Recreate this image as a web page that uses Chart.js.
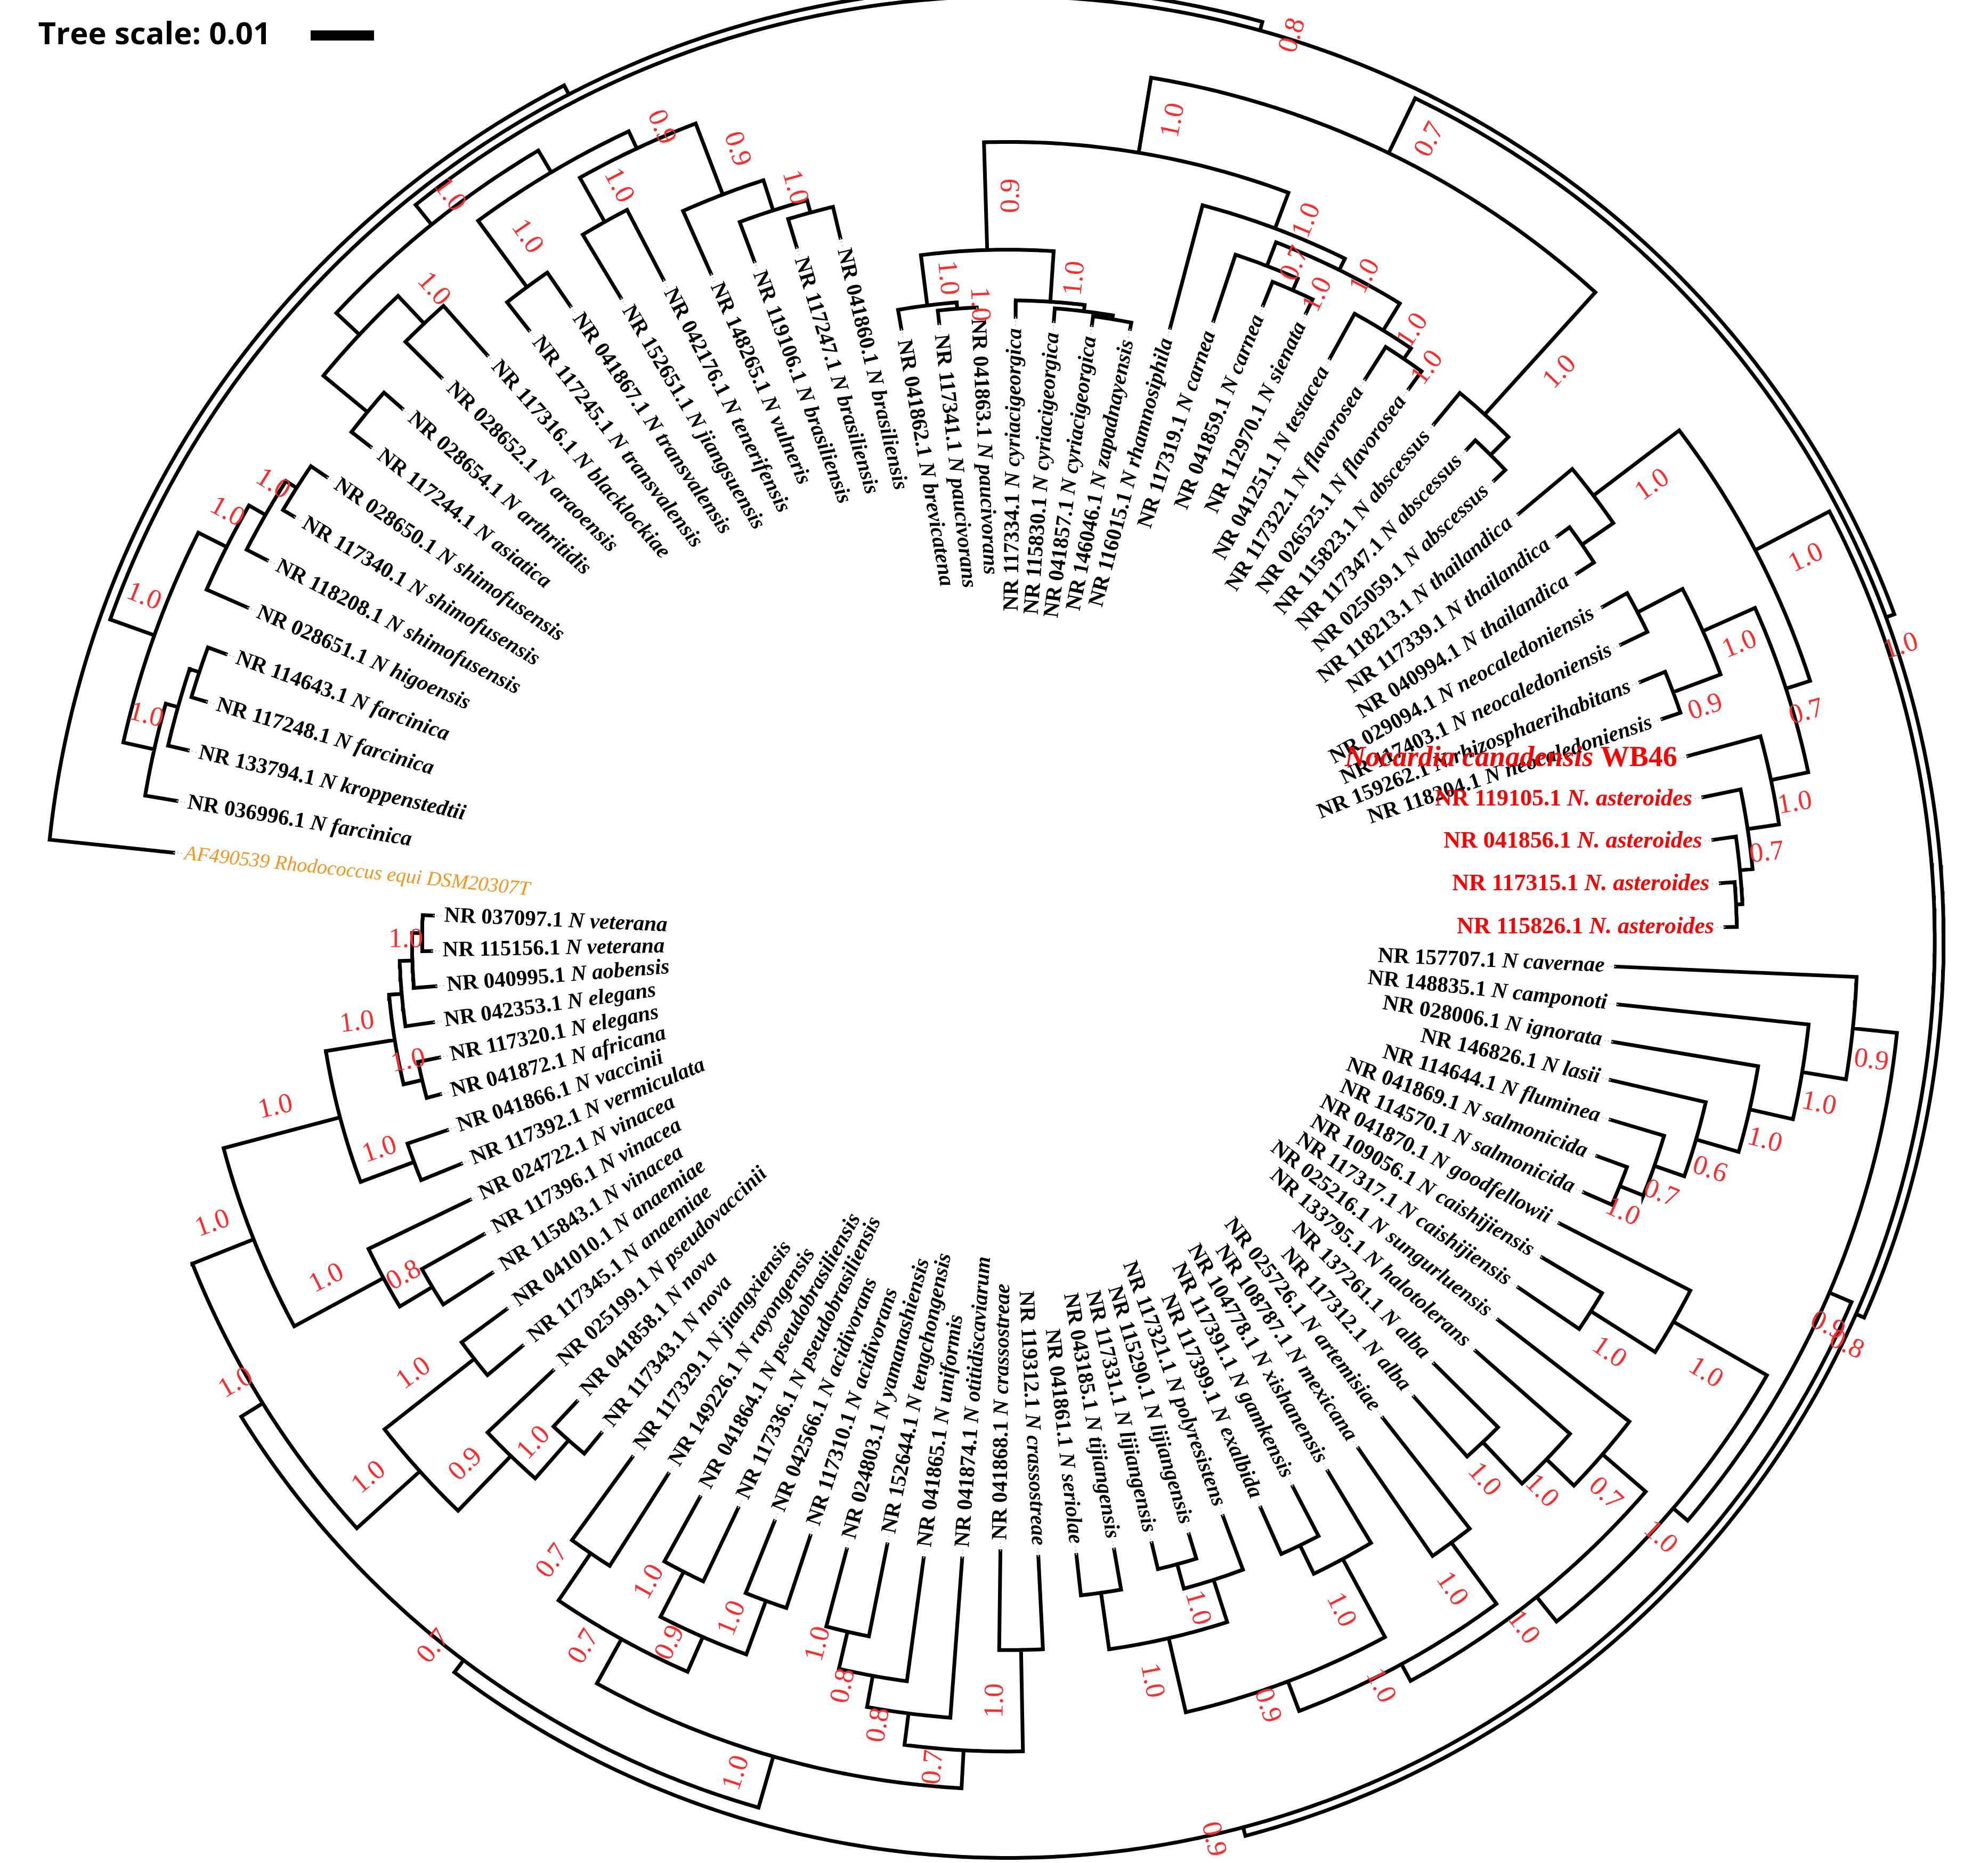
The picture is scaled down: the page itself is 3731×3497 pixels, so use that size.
<!DOCTYPE html>
<html lang="en">
<head>
  <meta charset="UTF-8">
  <title>Nocardia 16S rRNA tree</title>
  <script src="https://cdn.jsdelivr.net/npm/chart.js"></script>
  <style>
    html, body { margin: 0; padding: 0; background: #fff; }
    #wrap { width: 3731px; height: 3497px; position: relative; }
  </style>
</head>
<body>
  <div id="wrap"><canvas id="tree"></canvas></div>
  <script>
    // leaves in order around the circle (clockwise, starting at the outgroup)
    const leafIds = ['AF490539','NR 036996.1','NR 133794.1','NR 117248.1','NR 114643.1','NR 028651.1','NR 118208.1','NR 117340.1','NR 028650.1','NR 117244.1',
      'NR 028654.1','NR 028652.1','NR 117316.1','NR 117245.1','NR 041867.1','NR 152651.1','NR 042176.1','NR 148265.1','NR 119106.1','NR 117247.1',
      'NR 041860.1','NR 041862.1','NR 117341.1','NR 041863.1','NR 117334.1','NR 115830.1','NR 041857.1','NR 146046.1','NR 116015.1','NR 117319.1',
      'NR 041859.1','NR 112970.1','NR 041251.1','NR 117322.1','NR 026525.1','NR 115823.1','NR 117347.1','NR 025059.1','NR 118213.1','NR 117339.1',
      'NR 040994.1','NR 029094.1','NR 117403.1','NR 159262.1','NR 118204.1','','NR 119105.1','NR 041856.1','NR 117315.1','NR 115826.1',
      'NR 157707.1','NR 148835.1','NR 028006.1','NR 146826.1','NR 114644.1','NR 041869.1','NR 114570.1','NR 041870.1','NR 109056.1','NR 117317.1',
      'NR 025216.1','NR 133795.1','NR 137261.1','NR 117312.1','NR 025726.1','NR 108787.1','NR 104778.1','NR 117391.1','NR 117399.1','NR 117321.1',
      'NR 115290.1','NR 117331.1','NR 043185.1','NR 041861.1','NR 119312.1','NR 041868.1','NR 041874.1','NR 041865.1','NR 152644.1','NR 024803.1',
      'NR 117310.1','NR 042566.1','NR 117336.1','NR 041864.1','NR 149226.1','NR 117329.1','NR 117343.1','NR 041858.1','NR 025199.1','NR 117345.1',
      'NR 041010.1','NR 115843.1','NR 117396.1','NR 024722.1','NR 117392.1','NR 041866.1','NR 041872.1','NR 117320.1','NR 042353.1','NR 040995.1',
      'NR 115156.1','NR 037097.1'];
    const leafNames = ['Rhodococcus equi DSM20307T','N farcinica','N kroppenstedtii','N farcinica','N farcinica','N higoensis','N shimofusensis','N shimofusensis','N shimofusensis','N asiatica',
      'N arthritidis','N araoensis','N blacklockiae','N transvalensis','N transvalensis','N jiangsuensis','N tenerifensis','N vulneris','N brasiliensis','N brasiliensis',
      'N brasiliensis','N brevicatena','N paucivorans','N paucivorans','N cyriacigeorgica','N cyriacigeorgica','N cyriacigeorgica','N zapadnayensis','N rhamnosiphila','N carnea',
      'N carnea','N sienata','N testacea','N flavorosea','N flavorosea','N abscessus','N abscessus','N abscessus','N thailandica','N thailandica',
      'N thailandica','N neocaledoniensis','N neocaledoniensis','N rhizosphaerihabitans','N neocaledoniensis','Nocardia canadensis','N. asteroides','N. asteroides','N. asteroides','N. asteroides',
      'N cavernae','N camponoti','N ignorata','N lasii','N fluminea','N salmonicida','N salmonicida','N goodfellowii','N caishijiensis','N caishijiensis',
      'N sungurluensis','N halotolerans','N alba','N alba','N artemisiae','N mexicana','N xishanensis','N gamkensis','N exalbida','N polyresistens',
      'N lijiangensis','N lijiangensis','N tijiangensis','N seriolae','N crassostreae','N crassostreae','N otitidiscaviarum','N uniformis','N tengchongensis','N yamanashiensis',
      'N acidivorans','N acidivorans','N pseudobrasiliensis','N pseudobrasiliensis','N rayongensis','N jiangxiensis','N nova','N nova','N pseudovaccinii','N anaemiae',
      'N anaemiae','N vinacea','N vinacea','N vinacea','N vermiculata','N vaccinii','N africana','N elegans','N elegans','N aobensis',
      'N veterana','N veterana'];
    // distance of each tip from the centre (root is outermost)
    const tipR = [662,665,664,660,657,655,657,655,650,636, 636,630,618,612,608,592,588,576,572,572,
      570,490,490,500,492,490,490,492,500,515, 540,548,525,525,538,528,530,528,525,538,
      534,538,537,539,545,556,560,562,564,566, 480,484,484,488,496,495,496,489,490,487,
      489,491,474,482,479,487,489,486,490,485, 490,489,488,488,487,482,489,492,486,497,
      495,494,496,502,499,504,504,498,494,499, 491,484,474,471,466,467,464,458,458,453, 455,454];
    const outgroup = [0];
    const studyStrain = [45];
    const typeRelatives = [46, 47, 48, 49];

    // topology: [support, node radius, children...]; numbers are leaf indices
    const cladeA = ['1.0', 715, ['1.0', 690, 1, [null, 680, 2, [null, 672, 3, 4]]], ['1.0', 690, 5, ['1.0', 675, 6, [null, 665, 7, 8]]]];
    const cladeB = ['1.0', 725, [null, 700, [null, 655, 9, 10], ['1.0', 670, 11, 12]],
      [null, 705, ['1.0', 640, 13, 14], ['0.9', 690, ['1.0', 650, 15, 16], ['0.9', 630, 17, ['1.0', 605, 18, [null, 595, 19, 20]]]]]];
    const cladeC = ['0.9', 545, ['1.0', 505, 21, ['1.0', 500, 22, 23]], ['1.0', 505, 24, [null, 500, 25, [null, 497, 26, 27]]]];
    const cladeD = ['1.0', 600, 28, ['1.0', 590, ['0.7', 570, 29, ['1.0', 560, 30, 31]], ['1.0', 565, 32, ['1.0', 555, 33, 34]]]];
    const cladeAbs = ['1.0', 560, 35, [null, 540, 36, 37]];
    const cladeQ = ['0.7', 690, ['1.0', 630, cladeC, cladeD], cladeAbs];
    const cladeE = ['1.0', 665, ['1.0', 580, 38, [null, 550, 39, 40]],
      ['0.7', 645, ['1.0', 600, [null, 560, 41, 42], ['0.9', 560, 43, 44]], ['1.0', 615, 45, ['0.7', 590, 46, [null, 580, 47, [null, 575, 48, 49]]]]]];
    const cladeF1 = ['0.9', 670, 50, ['1.0', 635, 51, ['1.0', 600, 52, ['0.6', 565, 53, ['0.7', 540, 54, ['1.0', 520, 55, 56]]]]]];
    const cladeF3 = ['1.0', 665, ['0.7', 620, 60, ['1.0', 590, 61, ['1.0', 545, 62, 63]]],
      ['1.0', 650, ['1.0', 590, 64, 65], ['0.9', 625, ['1.0', 555, 66, [null, 530, 67, 68]], ['1.0', 565, ['1.0', 530, 69, [null, 510, 70, 71]], [null, 520, 72, 73]]]]];
    const cladeF = ['0.9', 705, cladeF1, ['1.0', 690, ['1.0', 605, 57, ['1.0', 545, 58, 59]], cladeF3]];
    const cladeG1 = ['1.0', 670, ['0.7', 640, ['1.0', 560, 74, 75], ['0.8', 615, 76, ['0.8', 590, 77, ['1.0', 560, 78, 79]]]],
      ['0.7', 630, ['0.9', 600, ['1.0', 555, 80, 81], ['1.0', 560, 82, 83]], ['0.7', 585, 84, 85]]];
    const cladeG3 = ['1.0', 625, ['0.9', 565, ['1.0', 525, 86, 87], 88], ['1.0', 535, 89, 90]];
    const cladeG4 = ['1.0', 640, ['1.0', 560, ['0.8', 530, 91, 92], 93],
      ['1.0', 545, ['1.0', 500, 94, 95], ['1.0', 490, ['1.0', 475, 96, 97], [null, 480, 98, ['1.0', 470, 99, [null, 462, 100, 101]]]]]];
    const cladeG = ['0.7', 712, cladeG1, ['1.0', 692, cladeG3, cladeG4]];
    const treeRoot = ['0.9', 760, 0, [null, 752, cladeA, ['0.8', 745, cladeB, ['1.0', 738, cladeQ, ['0.8', 731, cladeE, ['0.9', 724, cladeF, cladeG]]]]]];

    const START_ANGLE = 186;
    const STEP = 360 / leafIds.length;
    const rad = d => d * Math.PI / 180;

    function layout(n) {
      if (typeof n === 'number') return { leaf: n, a: rad(START_ANGLE + n * STEP), r: tipR[n] };
      const [s, r, ...kids] = n;
      const ch = kids.map(layout);
      return { s, r, ch, a0: ch[0].a, a1: ch[ch.length - 1].a, a: (ch[0].a + ch[ch.length - 1].a) / 2 };
    }
    const tree = layout(treeRoot);

    const pt = (r, a) => ({ x: r * Math.cos(a), y: r * Math.sin(a) });
    const GAP = { x: NaN, y: NaN };
    const branchPts = [], leaderPts = [], supports = [], tips = [];
    (function walk(node, parentR) {
      if (node.leaf !== undefined) {
        tips.push(node);
        leaderPts.push(pt(node.r, node.a), pt(node.r - 7, node.a), GAP);
        return;
      }
      // arc joining the children
      for (let a = node.a0; a < node.a1; a += rad(0.4)) branchPts.push(pt(node.r, a));
      branchPts.push(pt(node.r, node.a1), GAP);
      node.ch.forEach(c => {
        branchPts.push(pt(node.r, c.a), pt(c.r, c.a), GAP);
        walk(c, node.r);
      });
      if (node.s && parentR) supports.push({ text: node.s, r: (parentR + node.r) / 2, a: node.a + rad(2) });
    })(tree, null);

    const labelPlugin = {
      id: 'treeLabels',
      afterDatasetsDraw(chart) {
        const { ctx, scales: { x, y } } = chart;
        const P = (vx, vy) => [x.getPixelForValue(vx), y.getPixelForValue(vy)];
        const unit = x.getPixelForValue(1) - x.getPixelForValue(0);
        ctx.save();
        // leaf labels
        tips.forEach(t => {
          const i = t.leaf;
          let parts, horizontal = false;
          if (outgroup.includes(i)) parts = [[leafIds[i] + ' ' + leafNames[i], 'italic 38px "Liberation Serif"', '#f7941d']];
          else if (studyStrain.includes(i)) {
            horizontal = true;
            parts = [[leafNames[i], 'bold italic 54px "Liberation Serif"', '#ff0000'], [' WB46', 'bold 54px "Liberation Serif"', '#ff0000']];
          } else if (typeRelatives.includes(i)) {
            horizontal = true;
            parts = [[leafIds[i] + ' ', 'bold 44px "Liberation Serif"', '#ff0000'], [leafNames[i], 'bold italic 44px "Liberation Serif"', '#ff0000']];
          } else parts = [[leafIds[i] + ' ', 'bold 41px "Liberation Serif"', '#000'], [leafNames[i], 'bold italic 41px "Liberation Serif"', '#000']];
          const deg = ((START_ANGLE + i * STEP) % 360 + 360) % 360;
          const flip = deg > 90 && deg < 270;
          const p0 = pt(t.r - 9, t.a);
          const [px, py] = P(p0.x, p0.y);
          let total = 0;
          parts.forEach(p => { ctx.font = p[1]; total += ctx.measureText(p[0]).width; });
          ctx.save();
          ctx.translate(px, py);
          if (!horizontal) ctx.rotate(flip ? t.a - Math.PI : t.a);
          ctx.textBaseline = 'middle';
          ctx.textAlign = 'left';
          let cur = flip ? 0 : -total;
          parts.forEach(p => { ctx.font = p[1]; ctx.fillStyle = p[2]; ctx.fillText(p[0], cur, 0); cur += ctx.measureText(p[0]).width; });
          ctx.restore();
        });
        // support values
        ctx.font = '52px "Liberation Serif"';
        ctx.fillStyle = '#ff2a2a';
        supports.forEach(s => {
          const deg = ((s.a * 180 / Math.PI) % 360 + 360) % 360;
          const flip = deg > 90 && deg < 270;
          const p0 = pt(s.r, s.a);
          const [px, py] = P(p0.x, p0.y);
          ctx.save();
          ctx.translate(px, py);
          ctx.rotate(flip ? s.a - Math.PI : s.a);
          ctx.textAlign = 'center';
          ctx.textBaseline = 'middle';
          ctx.fillText(s.text, 0, 0);
          ctx.restore();
        });
        // tree scale
        ctx.fillStyle = '#000';
        ctx.font = 'bold 58px "Open Sans"';
        ctx.textBaseline = 'middle';
        ctx.textAlign = 'left';
        const [tx, ty] = P(30 - 795, 28 - 742);
        ctx.fillText('Tree scale: 0.01', tx, ty);
        const [bx0, by] = P(245 - 795, 28 - 742);
        const [bx1] = P(295 - 795, 28 - 742);
        ctx.fillRect(bx0, by - 4 * unit, bx1 - bx0, 8 * unit);
        ctx.restore();
      }
    };

    new Chart(document.getElementById('tree'), {
      type: 'scatter',
      data: {
        datasets: [
          { data: leaderPts, showLine: true, spanGaps: false, borderColor: '#c8c8c8', borderWidth: 2, borderDash: [3, 4], pointRadius: 0 },
          { data: branchPts, showLine: true, spanGaps: false, borderColor: '#000', borderWidth: 7, pointRadius: 0, borderCapStyle: 'square' }
        ]
      },
      options: {
        responsive: true,
        maintainAspectRatio: false,
        animation: false,
        layout: { padding: 0 },
        plugins: { legend: { display: false }, tooltip: { enabled: false } },
        scales: {
          x: { type: 'linear', min: -795, max: 773, display: false },
          y: { type: 'linear', min: -742, max: 728, reverse: true, display: false }
        }
      },
      plugins: [labelPlugin]
    });
  </script>
</body>
</html>
